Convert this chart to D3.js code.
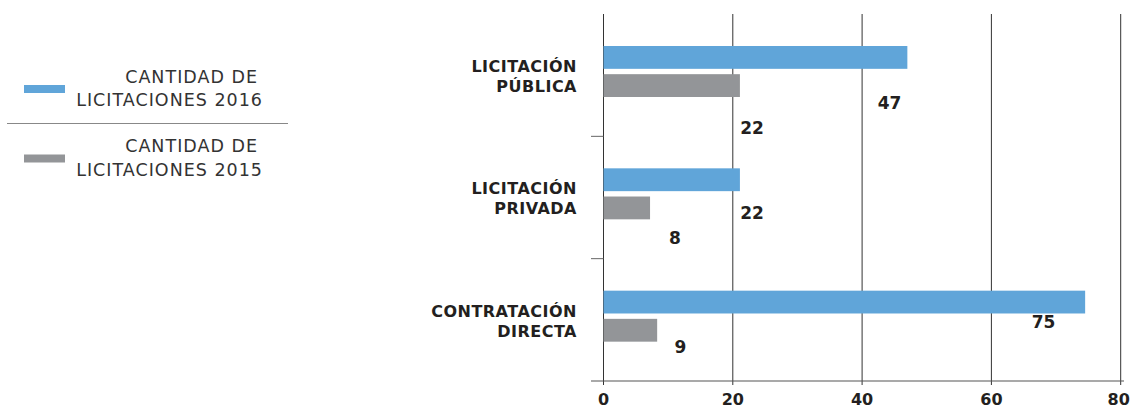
<!DOCTYPE html>
<html>
<head>
<meta charset="utf-8">
<script src="https://cdn.jsdelivr.net/npm/d3@7"></script>
<style>
  body { margin: 0; background: #fff; }
  svg text { font-family: "DejaVu Sans", sans-serif; }
</style>
</head>
<body>
<div id="chart"></div>
<script>
// categories, top to bottom
const categories = ["LICITACIÓN PÚBLICA", "LICITACIÓN PRIVADA", "CONTRATACIÓN DIRECTA"];
const categoryLines = [["LICITACIÓN", "PÚBLICA"], ["LICITACIÓN", "PRIVADA"], ["CONTRATACIÓN", "DIRECTA"]];
// bar lengths as drawn
const values2016 = [47, 21.1, 74.5];
const values2015 = [21.1, 7.2, 8.3];
// printed value labels
const labels2016 = ["47", "22", "75"];
const labels2015 = ["22", "8", "9"];
const xTicks = [0, 20, 40, 60, 80];
const legendItems = [
  ["CANTIDAD DE", "LICITACIONES 2016"],
  ["CANTIDAD DE", "LICITACIONES 2015"]
];

const W = 1134, H = 410;
const blue = "#60a5d9", gray = "#939598", ink = "#231f20";

const svg = d3.select("#chart").append("svg")
  .attr("width", W)
  .attr("height", H);

const x = d3.scaleLinear().domain([0, 80]).range([603.5, 1120.7]);
const y = d3.scaleBand().domain(categories).range([14, 381]);
const ySub = d3.scaleBand().domain(["2016", "2015"]).range([0, 51]).paddingInner(0.19);

// value labels sit on a slightly compressed grid
const labelX = d3.scaleLinear().domain([0, 80]).range([631, 1071]);
const labelY = d3.scalePoint().domain(categories).range([109, 328]);

// gridlines
svg.append("g")
  .selectAll("line")
  .data(xTicks)
  .join("line")
  .attr("x1", d => x(d))
  .attr("x2", d => x(d))
  .attr("y1", 14)
  .attr("y2", 385)
  .attr("stroke", "#333")
  .attr("stroke-width", 1);

// x axis line
svg.append("line")
  .attr("x1", 591).attr("x2", 1124)
  .attr("y1", 381).attr("y2", 381)
  .attr("stroke", "#555").attr("stroke-width", 1.2);

// category separators
svg.append("g")
  .selectAll("line")
  .data(categories.slice(1))
  .join("line")
  .attr("x1", 591).attr("x2", x(0))
  .attr("y1", d => y(d)).attr("y2", d => y(d))
  .attr("stroke", "#666").attr("stroke-width", 1);

// x tick labels
svg.append("g")
  .selectAll("text")
  .data(xTicks)
  .join("text")
  .attr("x", d => d === 80 ? x(d) - 2 : x(d))
  .attr("y", 405)
  .attr("text-anchor", "middle")
  .attr("font-size", 16)
  .attr("font-weight", "bold")
  .attr("fill", ink)
  .text(d => d);

// bars
const series = [
  { key: "2016", values: values2016, labels: labels2016, color: blue, dy: 0 },
  { key: "2015", values: values2015, labels: labels2015, color: gray, dy: 25 }
];

series.forEach(s => {
  svg.append("g")
    .selectAll("rect")
    .data(categories)
    .join("rect")
    .attr("x", x(0))
    .attr("y", d => y(d) + 32 + ySub(s.key))
    .attr("width", (d, i) => x(s.values[i]) - x(0))
    .attr("height", ySub.bandwidth())
    .attr("fill", s.color);

  svg.append("g")
    .selectAll("text")
    .data(categories)
    .join("text")
    .attr("x", (d, i) => labelX(+s.labels[i]))
    .attr("y", d => labelY(d) + s.dy)
    .attr("text-anchor", "middle")
    .attr("font-size", 17)
    .attr("font-weight", "bold")
    .attr("fill", ink)
    .text((d, i) => s.labels[i]);
});

// category labels
const catG = svg.append("g")
  .selectAll("text")
  .data(categories)
  .join("text")
  .attr("text-anchor", "end")
  .attr("font-size", 16)
  .attr("font-weight", "bold")
  .attr("fill", ink)
  .attr("letter-spacing", 0.5)
  .attr("y", d => y(d) + 58);

catG.selectAll("tspan")
  .data((d, i) => categoryLines[i])
  .join("tspan")
  .attr("x", 577)
  .attr("dy", (d, i) => i === 0 ? 0 : 20)
  .text(d => d);

// legend
const legend = svg.append("g");
const legendColors = [blue, gray];
legendItems.forEach((lines, i) => {
  const top = 82.5 + i * 69.5;
  legend.append("rect")
    .attr("x", 24).attr("y", top + 2.5)
    .attr("width", 41).attr("height", 8)
    .attr("fill", legendColors[i]);
  legend.append("text")
    .attr("text-anchor", "end")
    .attr("font-size", 17.5)
    .attr("fill", "#333")
    .attr("letter-spacing", 1)
    .selectAll("tspan")
    .data(lines)
    .join("tspan")
    .attr("x", (d, j) => j === 0 ? 258 : 263)
    .attr("y", (d, j) => top + j * 23.5)
    .text(d => d);
});
legend.append("line")
  .attr("x1", 7).attr("x2", 288)
  .attr("y1", 123.5).attr("y2", 123.5)
  .attr("stroke", "#888").attr("stroke-width", 1);
</script>
</body>
</html>
